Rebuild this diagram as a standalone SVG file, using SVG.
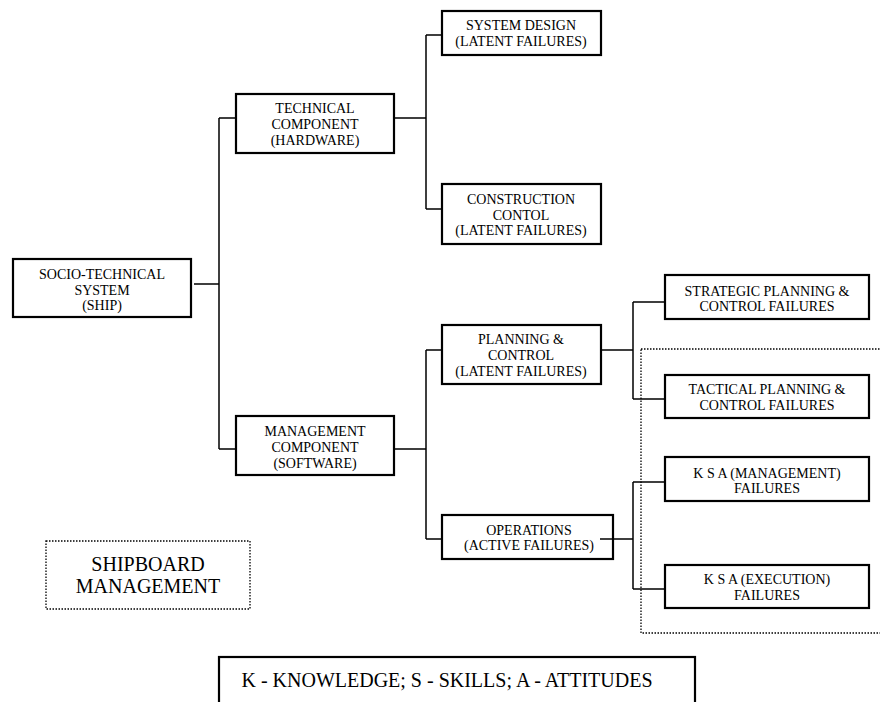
<svg xmlns="http://www.w3.org/2000/svg" width="880" height="702" viewBox="0 0 880 702">
<style>
.box{fill:#fff;stroke:#000;stroke-width:2.2}
.dot{fill:none;stroke:#000;stroke-width:1.3;stroke-dasharray:1.5 1.5}
.t{font-family:"Liberation Serif","Times New Roman",serif;font-size:14px;fill:#000;text-anchor:middle}
.big{font-family:"Liberation Serif","Times New Roman",serif;font-size:20px;fill:#000;text-anchor:middle}
.c{fill:none;stroke:#000;stroke-width:1.5}
</style>
<rect width="880" height="702" fill="#fff"/>
<g id="shipboard-region"><rect class="dot" x="641" y="349" width="245" height="284"/></g>
<g id="connectors">
<path class="c" d="M194 284H219M219 118V449M219 118H236M219 449H236"/>
<path class="c" d="M394 118H426M426 35V209M426 35H442M426 209H442"/>
<path class="c" d="M394 449H426M426 350V539M426 350H442M426 539H442"/>
<path class="c" d="M601 350H633M633 302V399M633 302H665M633 399H665"/>
<path class="c" d="M600 539H633M633 482V589M633 482H665M633 589H665"/>
</g>
<g id="socio"><rect class="box" x="13" y="259" width="178" height="58"/>
<text class="t" x="102" y="279">SOCIO-TECHNICAL</text><text class="t" x="102" y="295">SYSTEM</text><text class="t" x="102" y="310">(SHIP)</text></g>
<g id="technical"><rect class="box" x="236" y="94" width="158" height="59"/>
<text class="t" x="315" y="113">TECHNICAL</text><text class="t" x="315" y="129">COMPONENT</text><text class="t" x="315" y="145">(HARDWARE)</text></g>
<g id="management"><rect class="box" x="236" y="416" width="158" height="59"/>
<text class="t" x="315" y="436">MANAGEMENT</text><text class="t" x="315" y="452">COMPONENT</text><text class="t" x="315" y="468">(SOFTWARE)</text></g>
<g id="system-design"><rect class="box" x="442" y="11" width="159" height="44"/>
<text class="t" x="521" y="30">SYSTEM DESIGN</text><text class="t" x="521" y="46">(LATENT FAILURES)</text></g>
<g id="construction"><rect class="box" x="442" y="184" width="159" height="60"/>
<text class="t" x="521" y="204">CONSTRUCTION</text><text class="t" x="521" y="220">CONTOL</text><text class="t" x="521" y="235">(LATENT FAILURES)</text></g>
<g id="planning"><rect class="box" x="442" y="325" width="159" height="59"/>
<text class="t" x="521" y="344">PLANNING &amp;</text><text class="t" x="521" y="360">CONTROL</text><text class="t" x="521" y="376">(LATENT FAILURES)</text></g>
<g id="operations"><rect class="box" x="442" y="515" width="171" height="44"/>
<text class="t" x="529" y="535">OPERATIONS</text><text class="t" x="529" y="550">(ACTIVE FAILURES)</text></g>
<path class="c" d="M600 539H613"/>
<g id="strategic"><rect class="box" x="665" y="275" width="204" height="44"/>
<text class="t" x="767" y="296">STRATEGIC PLANNING &amp;</text><text class="t" x="767" y="311">CONTROL FAILURES</text></g>
<g id="tactical"><rect class="box" x="665" y="375" width="204" height="43"/>
<text class="t" x="767" y="394">TACTICAL PLANNING &amp;</text><text class="t" x="767" y="410">CONTROL FAILURES</text></g>
<g id="ksa-management"><rect class="box" x="665" y="457" width="204" height="44"/>
<text class="t" x="767" y="478">K S A (MANAGEMENT)</text><text class="t" x="767" y="493">FAILURES</text></g>
<g id="ksa-execution"><rect class="box" x="665" y="565" width="204" height="43"/>
<text class="t" x="767" y="584">K S A (EXECUTION)</text><text class="t" x="767" y="600">FAILURES</text></g>
<g id="shipboard-label"><rect class="dot" x="46" y="541" width="204" height="68"/>
<text class="big" x="148" y="571">SHIPBOARD</text><text class="big" x="148" y="593">MANAGEMENT</text></g>
<g id="legend"><rect class="box" x="219" y="657" width="476" height="60"/>
<text class="big" x="447" y="687">K - KNOWLEDGE; S - SKILLS; A - ATTITUDES</text></g>
</svg>
